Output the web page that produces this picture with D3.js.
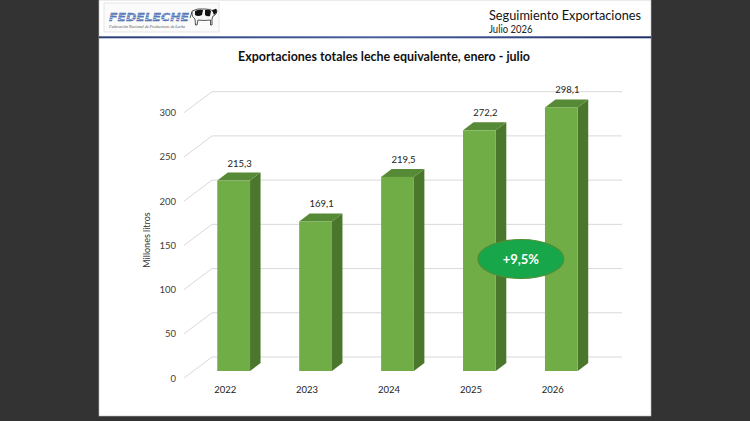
<!DOCTYPE html>
<html><head><meta charset="utf-8">
<script src="https://cdn.jsdelivr.net/npm/d3@7"></script>
<style>
html,body{margin:0;padding:0;background:#333333;}
svg{display:block;font-family:Lato,"Liberation Sans",sans-serif;}
</style></head>
<body>
<svg id="c" width="750" height="421"></svg>
<script>
const years = ["2022","2023","2024","2025","2026"];
const values = [215.3, 169.1, 219.5, 272.2, 298.1];
const valueLabels = ["215,3","169,1","219,5","272,2","298,1"];
const yTicks = [0, 50, 100, 150, 200, 250, 300];
const title = "Exportaciones totales leche equivalente, enero - julio";
const header1 = "Seguimiento Exportaciones";
const header2 = "Julio 2026";
const yTitle = "Millones litros";
const growthLabel = "+9,5%";

const svg = d3.select("#c");

// panel
svg.append("rect").attr("x",99).attr("y",0).attr("width",552).attr("height",416)
  .attr("fill","#ffffff").attr("stroke","#bdbdbd").attr("stroke-width",0.6);

// header line
const defs = svg.append("defs");
const lg = defs.append("linearGradient").attr("id","hl");
lg.append("stop").attr("offset","0").attr("stop-color","#2b3f7a");
lg.append("stop").attr("offset","0.5").attr("stop-color","#4a5fa0");
lg.append("stop").attr("offset","1").attr("stop-color","#1f2f66");
svg.append("rect").attr("x",99).attr("y",36.3).attr("width",552).attr("height",2).attr("fill","url(#hl)");

// logo
const pat = defs.append("pattern").attr("id","stripes").attr("patternUnits","userSpaceOnUse")
  .attr("width",4).attr("height",2.2);
pat.append("rect").attr("width",4).attr("height",2.2).attr("fill","#5d7fc2");
pat.append("rect").attr("y",1.5).attr("width",4).attr("height",0.7).attr("fill","#dfe6f5");
svg.append("rect").attr("x",104).attr("y",3).attr("width",115).attr("height",29)
  .attr("fill","#fbfbfb").attr("stroke","#d6d6d6").attr("stroke-width",0.6);
svg.append("text").attr("x",109).attr("y",20.5).attr("font-family","'DejaVu Sans'")
  .attr("font-weight","bold").attr("font-style","italic").attr("font-size",11)
  .attr("textLength",80).attr("lengthAdjust","spacingAndGlyphs")
  .attr("fill","url(#stripes)").attr("stroke","#3f5ea3").attr("stroke-width",0.3)
  .text("FEDELECHE");
svg.append("text").attr("x",109).attr("y",28.3).attr("font-family","'Liberation Serif'")
  .attr("font-style","italic").attr("font-size",4.2).attr("fill","#555")
  .attr("textLength",76).attr("lengthAdjust","spacingAndGlyphs")
  .text("Federación Nacional de Productores de Leche");
// cow (Holstein silhouette)
const cow = svg.append("g").attr("transform","translate(189,5)");
cow.append("path").attr("d","M3,6 Q8,3 16,4 Q22,4 24,6 L27,4 L28,6 L27,9 Q25,11 24,11 L23,14 L23,20 L21.5,20 L21.5,15 Q15,16 9,15 L8,20 L6.5,20 L6,14 Q3,12 3,9 Z")
  .attr("fill","#f5f5f5").attr("stroke","#111").attr("stroke-width",0.7);
cow.append("path").attr("d","M6,6 Q10,4 14,5 L13,10 Q9,12 6,10 Z").attr("fill","#111");
cow.append("path").attr("d","M16,5 Q20,4 22,6 L21,11 Q18,12 16,10 Z").attr("fill","#111");
cow.append("path").attr("d","M23,5 L27,4 L28,7 L25,10 Z").attr("fill","#111");
cow.append("path").attr("d","M3,7 L1,13").attr("stroke","#111").attr("stroke-width",0.7);

// header text
function fit(sel, w){ sel.attr("textLength",w).attr("lengthAdjust","spacingAndGlyphs"); return sel; }
fit(svg.append("text").attr("x",489).attr("y",20).attr("font-size",14).attr("fill","#111").text(header1),152);
fit(svg.append("text").attr("x",489).attr("y",33).attr("font-size",10.5).attr("fill","#222").text(header2),43.5);

// title
fit(svg.append("text").attr("x",238).attr("y",61).attr("font-size",13.5).attr("font-weight","bold").attr("fill","#111").text(title),292);

// scales
const y = d3.scaleLinear().domain([0,300]).range([378,112.7]);
const x = d3.scaleBand().domain(years).range([192.7,602.3]).paddingInner(0.6).paddingOuter(0.3);
const depthX = 28, depthY = 21;      // wall depth
const barShiftY = 7;                 // bar plane offset relative to front
const bdx = 10.5, bdy = 8;           // bar depth

// gridlines
const grid = svg.append("g");
yTicks.forEach(t=>{
  const yy = y(t);
  grid.append("line").attr("x1",184).attr("y1",yy).attr("x2",184+depthX).attr("y2",yy-depthY)
    .attr("stroke","#d9d9d9").attr("stroke-width",1);
  grid.append("line").attr("x1",184+depthX).attr("y1",yy-depthY).attr("x2",622).attr("y2",yy-depthY)
    .attr("stroke","#d9d9d9").attr("stroke-width",1);
});

// y axis tick labels
const yAxis = d3.axisLeft(y).tickValues(yTicks).tickSize(0).tickPadding(0).tickFormat(d3.format("d"));
const ya = svg.append("g").attr("transform","translate(176,0)").call(yAxis);
ya.select(".domain").remove();
ya.selectAll("text").attr("font-family","Lato,'Liberation Sans',sans-serif").attr("font-size",9.5).attr("fill","#404040");

// y title
svg.append("text").attr("transform","translate(150,240) rotate(-90)").attr("text-anchor","middle")
  .attr("font-size",9).attr("fill","#333").text(yTitle);

// bars
const barG = svg.append("g");
years.forEach((yr,i)=>{
  const x0 = x(yr), w = x.bandwidth();
  const yb = y(0) - barShiftY, yt = y(values[i]) - barShiftY;
  barG.append("path").attr("d",`M${x0+w},${yt}L${x0+w+bdx},${yt-bdy}L${x0+w+bdx},${yb-bdy}L${x0+w},${yb}Z`).attr("fill","#4a772b");
  barG.append("path").attr("d",`M${x0},${yt}L${x0+bdx},${yt-bdy}L${x0+w+bdx},${yt-bdy}L${x0+w},${yt}Z`).attr("fill","#578a36");
  barG.append("rect").attr("x",x0).attr("y",yt).attr("width",w).attr("height",yb-yt).attr("fill","#70ad47");
  svg.append("text").attr("x",x0+w/2+6).attr("y",yt-14).attr("text-anchor","middle")
    .attr("font-size",9.5).attr("fill","#222").text(valueLabels[i]);
  svg.append("text").attr("x",x0+w/2-8.5).attr("y",392.5).attr("text-anchor","middle")
    .attr("font-size",9.5).attr("fill","#222").text(yr);
});

// growth bubble (between 2025 and 2026)
const cx = (x("2025")+x("2026")+x.bandwidth())/2 + 0.5;
svg.append("ellipse").attr("cx",cx).attr("cy",259).attr("rx",43).attr("ry",19.5)
  .attr("fill","#17a74a").attr("stroke","#4e8f35").attr("stroke-width",1.2);
svg.append("text").attr("x",cx).attr("y",264).attr("text-anchor","middle").attr("font-size",13)
  .attr("font-weight","bold").attr("fill","#ffffff").text(growthLabel);
</script>
</body></html>
